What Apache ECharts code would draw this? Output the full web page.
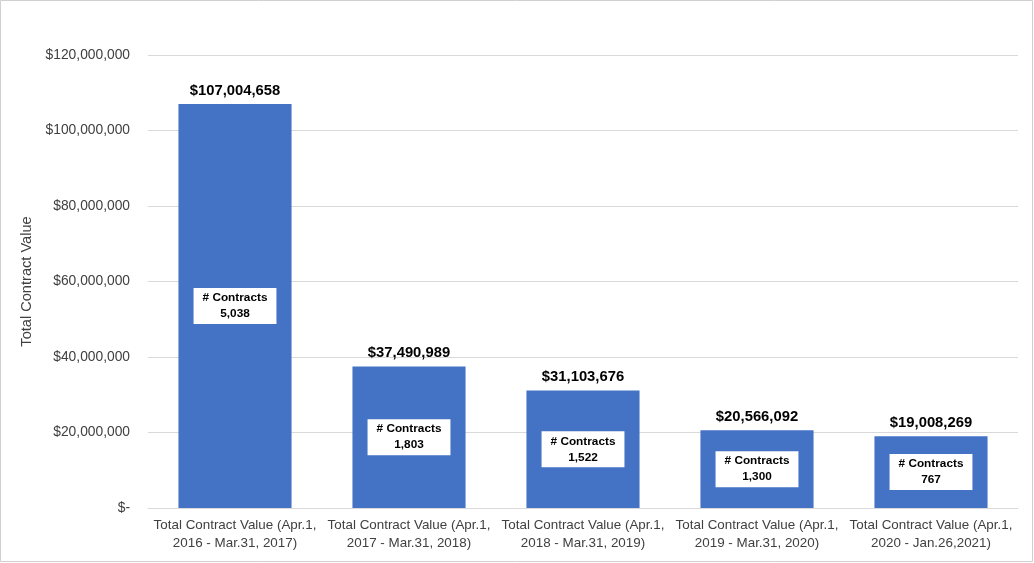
<!DOCTYPE html>
<html>
<head>
<meta charset="utf-8">
<script src="https://cdn.jsdelivr.net/npm/echarts@6/dist/echarts.min.js"></script>
<style>
html,body{margin:0;padding:0;background:#fff;}
#c{width:1034px;height:563px;}
</style>
</head>
<body>
<div id="c"></div>
<script>
var categories = [
  "Total Contract Value (Apr.1,\n2016 - Mar.31, 2017)",
  "Total Contract Value (Apr.1,\n2017 - Mar.31, 2018)",
  "Total Contract Value (Apr.1,\n2018 - Mar.31, 2019)",
  "Total Contract Value (Apr.1,\n2019 - Mar.31, 2020)",
  "Total Contract Value (Apr.1,\n2020 - Jan.26,2021)"
];
var contractValues = [107004658, 37490989, 31103676, 20566092, 19008269];
var contractCounts = [5038, 1803, 1522, 1300, 767];
var yTicks = [0, 20000000, 40000000, 60000000, 80000000, 100000000, 120000000];

function fmt(n){ return n.toString().replace(/\B(?=(\d{3})+(?!\d))/g, ","); }

var chart = echarts.init(document.getElementById('c'));
var font = "'Liberation Sans', Arial, sans-serif";
chart.setOption({
  animation: false,
  textStyle: { fontFamily: font },
  graphic: [{
    type: 'rect',
    shape: { x: 0.5, y: 0.5, width: 1032, height: 561 },
    style: { fill: 'none', stroke: '#d0d0d0', lineWidth: 1 },
    silent: true
  }],
  grid: { left: 148, right: 16, top: 55, bottom: 55 },
  xAxis: {
    type: 'category',
    data: categories,
    axisTick: { show: false },
    axisLine: { lineStyle: { color: '#d9d9d9' } },
    axisLabel: { color: '#404040', fontSize: 13.4, lineHeight: 18, margin: 8, interval: 0, fontFamily: font }
  },
  yAxis: {
    type: 'value',
    min: yTicks[0], max: yTicks[yTicks.length - 1], interval: 20000000,
    name: 'Total Contract Value',
    nameLocation: 'middle',
    nameGap: 110,
    nameTextStyle: { color: '#404040', fontSize: 14.6, fontFamily: font },
    axisLine: { show: false },
    axisTick: { show: false },
    splitLine: { lineStyle: { color: '#d9d9d9' } },
    axisLabel: {
      color: '#404040', fontSize: 13.8, margin: 18, fontFamily: font,
      formatter: function(v){ return v === 0 ? '$-' : '$' + fmt(v); }
    }
  },
  series: [{
    type: 'bar',
    data: contractValues,
    barWidth: '65%',
    itemStyle: { color: '#4472C4' },
    label: {
      show: true, position: 'top', distance: 6,
      color: '#000', fontWeight: 'bold', fontSize: 14.8, fontFamily: font,
      formatter: function(p){ return '$' + fmt(p.value); }
    }
  }, {
    type: 'bar',
    data: contractValues,
    barWidth: '65%',
    barGap: '-100%',
    silent: true,
    itemStyle: { color: 'rgba(0,0,0,0)' },
    label: {
      show: true, position: 'inside',
      color: '#000', fontWeight: 'bold', fontSize: 11.8, lineHeight: 16, fontFamily: font,
      backgroundColor: '#fff', padding: [2, 9],
      formatter: function(p){ return '# Contracts\n' + fmt(contractCounts[p.dataIndex]); }
    }
  }]
});
</script>
</body>
</html>
